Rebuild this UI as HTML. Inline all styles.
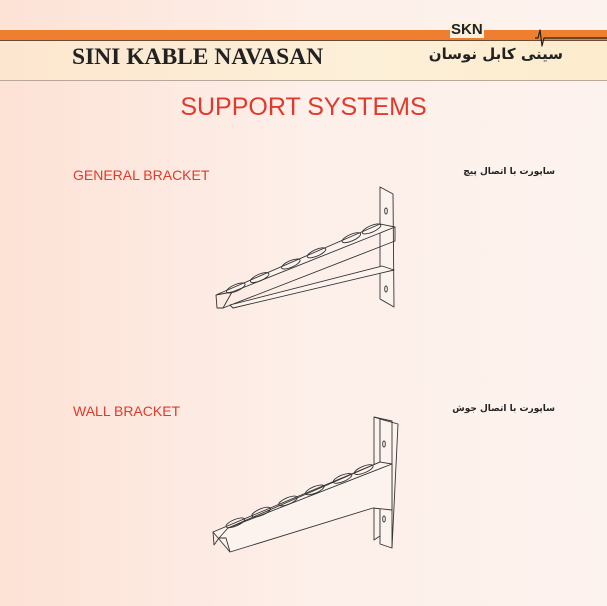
<!DOCTYPE html>
<html><head><meta charset="utf-8"><style>
html,body{margin:0;padding:0}
body{width:607px;height:606px;overflow:hidden;background:linear-gradient(90deg,#fde2d6 0%,#fdefe9 50%,#fdf3ee 100%);position:relative;font-family:"Liberation Sans",sans-serif}
.abs{position:absolute;white-space:nowrap}
</style></head><body>
<div class="abs" style="left:0;top:30px;width:607px;height:10px;background:#ee7f2f"></div>
<div class="abs" style="left:0;top:40px;width:607px;height:1px;background:#6b4a33"></div>
<div class="abs" style="left:0;top:41px;width:607px;height:39px;background:linear-gradient(90deg,#fde6cf,#fdf0d8 60%,#fdeccd)"></div>
<div class="abs" style="left:0;top:80px;width:607px;height:1px;background:#b9a89a"></div>
<div class="abs" style="left:72px;top:44px;font-family:'Liberation Serif',serif;font-weight:bold;font-size:23.5px;color:#222">SINI KABLE NAVASAN</div>
<div class="abs" style="left:450px;top:22px;font-weight:bold;font-size:15px;color:#222;background:#fdf0dc;padding:0 1px;line-height:16px">SKN</div>
<div class="abs" style="left:448px;top:45px;width:115px;text-align:right;font-family:'DejaVu Sans',sans-serif;font-weight:bold;font-size:15px;color:#222" dir="rtl">سینی کابل نوسان</div>
<div class="abs" style="left:0;width:607px;top:93px;text-align:center;font-size:25px;color:#e03a2c">SUPPORT SYSTEMS</div>
<div class="abs" style="left:73px;top:167px;font-size:14px;color:#e03a2c">GENERAL BRACKET</div>
<div class="abs" style="left:73px;top:403px;font-size:14px;color:#e03a2c">WALL BRACKET</div>
<div class="abs" style="right:52px;top:167px;font-family:'DejaVu Sans',sans-serif;font-weight:bold;font-size:9px;color:#222" dir="rtl">ساپورت با اتصال پیچ</div>
<div class="abs" style="right:52px;top:404px;font-family:'DejaVu Sans',sans-serif;font-weight:bold;font-size:9px;color:#222" dir="rtl">ساپورت با اتصال جوش</div>
<svg class="abs" style="left:0;top:0" width="607" height="606" fill="none" stroke="#333" stroke-width="0.9" stroke-linejoin="round">
<polygon points="380,187 393,194 394,307 380,299" fill="#fdf3ee"/>
<ellipse cx="386" cy="211" rx="1.3" ry="3"/><ellipse cx="386" cy="289" rx="1.3" ry="3"/>
<polygon points="216,295 380,224 395,227 232,292" fill="#fdf3ee"/>
<polyline points="216,295 217,308 223,308 232,292"/>
<polyline points="223,308 395,241 395,227"/>
<polygon points="230,305 382,266 394,270 233,308" fill="#fdf3ee"/>
<g transform="rotate(-23.5 300 260)">
<ellipse cx="230" cy="260" rx="10" ry="3.3"/><ellipse cx="256" cy="260" rx="10" ry="3.3"/><ellipse cx="290" cy="260" rx="10" ry="3.3"/><ellipse cx="318" cy="260" rx="10" ry="3.3"/><ellipse cx="356" cy="260" rx="10" ry="3.3"/><ellipse cx="378" cy="260" rx="10" ry="3.3"/>
</g>
<polygon points="374,417 380,419 380,536 374,540" fill="#fdf3ee"/>
<polygon points="380,419 398,424 392,548 380,544" fill="#fdf3ee"/>
<polyline points="374,417 392,421 392,548"/>
<ellipse cx="384" cy="444" rx="1.3" ry="3"/><ellipse cx="384" cy="519" rx="1.3" ry="3"/>
<polygon points="230,552 213,532 380,462 392,464 392,510 373,508" fill="#fdf3ee"/>
<polyline points="213,532 214,545 219,538 228,528 392,464"/>
<polyline points="219,538 226,538 230,552"/>
<polyline points="228,528 380,462"/>
<g transform="rotate(-22.5 300 496)">
<ellipse cx="230" cy="496" rx="10" ry="3.3"/><ellipse cx="258" cy="496" rx="10" ry="3.3"/><ellipse cx="287" cy="496" rx="10" ry="3.3"/><ellipse cx="316" cy="496" rx="10" ry="3.3"/><ellipse cx="346" cy="496" rx="10" ry="3.3"/><ellipse cx="369" cy="496" rx="10" ry="3.3"/>
</g>
<polyline stroke="#222" stroke-width="1.2" points="535,38 538,38 540,30 542,46 544,38 607,38"/>
</svg>
</body></html>
